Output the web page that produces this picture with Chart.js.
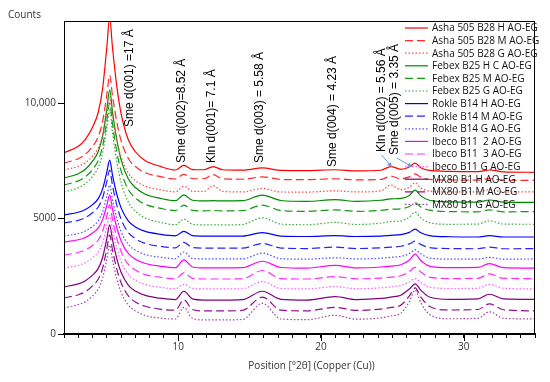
<!DOCTYPE html>
<html>
<head>
<meta charset="utf-8">
<script src="https://cdn.jsdelivr.net/npm/chart.js@4.4.1/dist/chart.umd.min.js"></script>
<style>
  body { margin: 0; background: #fff; }
</style>
</head>
<body>
<canvas id="xrd" width="550" height="382"></canvas>
<script>
// positions in degrees 2-theta
const twoTheta = [2, 3, 3.5, 4, 4.4, 4.7, 5.0, 5.2, 5.4, 5.7, 6.0, 6.5, 7, 7.7, 8.7, 9.8, 10.4, 11.0, 11.8, 12.45, 13.1, 14.5, 15.9, 17.2, 19, 21, 22.5, 24.2, 24.9, 25.6, 26.2, 26.6, 27.0, 27.6, 29, 31, 31.8, 32.8, 35];

// counts (each pattern already offset)
const ashaH = [7840, 8130, 8430, 8950, 9600, 10600, 12410, 13700, 12380, 10730, 9540, 8420, 7890, 7500, 7265, 7100, 7300, 7120, 7110, 7250, 7110, 7090, 7190, 7080, 7070, 7110, 7060, 7090, 7250, 7130, 7230, 7400, 7200, 7080, 7040, 7030, 7100, 7020, 7000];
const ashaM = [7400, 7590, 7780, 8120, 8540, 9190, 10360, 11200, 10300, 9180, 8370, 7610, 7250, 6980, 6820, 6710, 6910, 6730, 6720, 6900, 6720, 6700, 6800, 6690, 6680, 6720, 6670, 6690, 6830, 6720, 6800, 6930, 6790, 6690, 6670, 6660, 6730, 6660, 6650];
const ashaG = [7100, 7260, 7420, 7700, 8050, 8590, 9560, 10260, 9440, 8410, 7670, 6970, 6640, 6400, 6250, 6150, 6400, 6180, 6170, 6420, 6180, 6150, 6300, 6150, 6140, 6200, 6150, 6200, 6450, 6250, 6350, 6550, 6320, 6190, 6150, 6150, 6250, 6150, 6150];
const febexH = [6750, 6940, 7130, 7480, 7900, 8550, 9730, 10570, 9610, 8410, 7540, 6720, 6340, 6050, 5880, 5770, 6020, 5790, 5760, 5770, 5760, 5770, 6010, 5780, 5740, 5820, 5740, 5790, 5850, 5870, 6000, 6230, 5980, 5790, 5720, 5710, 5800, 5710, 5700];
const febexM = [6450, 6630, 6810, 7120, 7520, 8120, 9220, 10000, 9070, 7900, 7060, 6260, 5890, 5610, 5450, 5340, 5580, 5350, 5330, 5340, 5330, 5340, 5580, 5340, 5310, 5370, 5310, 5350, 5400, 5420, 5520, 5680, 5500, 5360, 5300, 5290, 5370, 5290, 5300];
const febexG = [6150, 6330, 6510, 6820, 7220, 7820, 8920, 9700, 8700, 7460, 6560, 5720, 5320, 5020, 4840, 4730, 4970, 4750, 4720, 4730, 4720, 4740, 5030, 4760, 4730, 4830, 4740, 4800, 4870, 4900, 5060, 5280, 5020, 4820, 4750, 4760, 4900, 4760, 4750];
const rokleH = [5150, 5270, 5390, 5600, 5860, 6270, 7010, 7530, 6870, 6050, 5460, 4900, 4630, 4440, 4320, 4250, 4440, 4260, 4240, 4240, 4240, 4240, 4390, 4240, 4220, 4260, 4220, 4240, 4270, 4300, 4400, 4540, 4380, 4260, 4210, 4200, 4260, 4200, 4200];
const rokleM = [4810, 4920, 5040, 5250, 5500, 5890, 6600, 7100, 6420, 5580, 4970, 4400, 4130, 3920, 3800, 3730, 3970, 3740, 3720, 3720, 3720, 3720, 3920, 3720, 3700, 3760, 3700, 3730, 3760, 3800, 3900, 4020, 3880, 3740, 3700, 3690, 3760, 3690, 3700];
const rokleG = [4240, 4350, 4460, 4660, 4900, 5280, 5960, 6450, 5810, 5010, 4430, 3890, 3630, 3440, 3330, 3260, 3550, 3270, 3250, 3250, 3250, 3250, 3500, 3260, 3240, 3300, 3250, 3280, 3320, 3360, 3480, 3650, 3470, 3290, 3240, 3240, 3320, 3240, 3250];
const ibeco2 = [3980, 4080, 4180, 4370, 4590, 4940, 5570, 6020, 5390, 4600, 4030, 3490, 3240, 3050, 2940, 2870, 3210, 2900, 2860, 2860, 2860, 2870, 3150, 2880, 2850, 2970, 2860, 2900, 2940, 3000, 3200, 3460, 3180, 2940, 2870, 2880, 3050, 2870, 2850];
const ibeco3 = [3420, 3530, 3640, 3830, 4070, 4440, 5110, 5590, 4950, 4150, 3570, 3020, 2770, 2570, 2460, 2390, 2650, 2410, 2380, 2380, 2380, 2390, 2750, 2400, 2380, 2480, 2390, 2420, 2460, 2520, 2700, 2880, 2680, 2460, 2400, 2410, 2600, 2410, 2400];
const ibecoG = [2860, 2970, 3090, 3300, 3550, 3940, 4650, 5150, 4510, 3710, 3130, 2590, 2330, 2140, 2030, 1960, 2150, 1980, 1950, 1950, 1950, 1960, 2270, 1970, 1950, 2050, 1960, 2000, 2040, 2100, 2250, 2400, 2230, 2030, 1970, 1980, 2150, 1980, 1950];
const mx80H = [2040, 2170, 2310, 2550, 2840, 3300, 4130, 4720, 4070, 3260, 2670, 2120, 1860, 1670, 1550, 1490, 1850, 1520, 1470, 1470, 1470, 1490, 1850, 1500, 1470, 1620, 1490, 1540, 1600, 1680, 1950, 2170, 1900, 1600, 1500, 1520, 1720, 1520, 1500];
const mx80M = [1560, 1700, 1830, 2080, 2380, 2840, 3690, 4290, 3630, 2810, 2220, 1660, 1390, 1200, 1080, 1030, 1480, 1060, 1000, 1000, 1000, 1020, 1600, 1030, 1000, 1150, 1020, 1080, 1150, 1250, 1650, 2000, 1600, 1200, 1040, 1060, 1300, 1050, 1000];
const mx80G = [1130, 1270, 1400, 1650, 1950, 2410, 3250, 3850, 3200, 2390, 1810, 1260, 1000, 800, 690, 650, 1150, 680, 610, 610, 610, 630, 1330, 650, 620, 810, 640, 700, 780, 900, 1400, 1900, 1350, 850, 660, 680, 960, 680, 650];

const seriesNames = [
  "Asha 505 B28 H AO-EG", "Asha 505 B28 M AO-EG", "Asha 505 B28 G AO-EG",
  "Febex B25 H C AO-EG", "Febex B25 M AO-EG", "Febex B25 G AO-EG",
  "Rokle B14 H AO-EG", "Rokle B14 M AO-EG", "Rokle B14 G AO-EG",
  "Ibeco B11  2 AO-EG", "Ibeco B11  3 AO-EG", "Ibeco B11 G AO-EG",
  "MX80 B1 H AO-EG", "MX80 B1 M AO-EG", "MX80 B1 G AO-EG"
];
const seriesValues = [ashaH, ashaM, ashaG, febexH, febexM, febexG, rokleH, rokleM, rokleG, ibeco2, ibeco3, ibecoG, mx80H, mx80M, mx80G];

const yTicks = [0, 5000, 10000];
const xTickLabels = [10, 20, 30];

// peak annotations (centre 2-theta, counts at the lower end of the text)
const peakLabels = ["Sme d(001) =17 Å", "Sme d(002)=8.52 Å", "Kln d(001)= 7.1 Å", "Sme d(003) = 5.58 Å", "Sme d(004) = 4.23 Å", "Kln d(002) = 5.56 Å", "Sme d(005) = 3.35 Å"];
const peakLabelX = [6.63, 10.28, 12.32, 15.68, 20.81, 24.25, 25.16];
const peakLabelY = [8960, 7400, 7400, 7400, 7230, 7880, 7750];
const arrowFromX = [24.25, 25.33];
const arrowFromY = [7750, 7620];
const arrowToX = [24.98, 26.39];
const arrowToY = [7230, 7230];

const lineColors = ["#ff0000", "#ff2a2a", "#ff4848", "#008a00", "#139913", "#36a836", "#0000ff", "#2424ff", "#4a4aff", "#ff00ff", "#ff2eff", "#ff5cff", "#800080", "#8f108f", "#a040a0"];
const dashes = [[], [8, 4], [1.5, 2]];

const datasets = seriesValues.map((vals, i) => ({
  label: seriesNames[i],
  data: twoTheta.map((t, k) => ({ x: t, y: vals[k] })),
  borderColor: lineColors[i],
  borderWidth: 1.2,
  borderDash: dashes[i % 3],
  pointRadius: 0,
  fill: false,
  cubicInterpolationMode: "monotone",
}));

const overlay = {
  id: "overlay",
  afterDraw(chart) {
    const { ctx, chartArea: a, scales } = chart;
    const x = scales.x, y = scales.y;
    ctx.save();

    // frame
    ctx.strokeStyle = "#000";
    ctx.lineWidth = 1;
    ctx.strokeRect(a.left + 0.5, a.top + 0.5, a.right - a.left - 1, a.bottom - a.top);

    // longer major ticks
    ctx.lineWidth = 1;
    xTickLabels.forEach((v) => {
      const px = Math.round(x.getPixelForValue(v)) + 0.5;
      ctx.beginPath();
      ctx.moveTo(px, a.bottom);
      ctx.lineTo(px, a.bottom + 7);
      ctx.stroke();
    });

    // rotated peak labels
    ctx.fillStyle = "#000";
    ctx.font = '12px "Liberation Sans"';
    ctx.textAlign = "left";
    ctx.textBaseline = "middle";
    peakLabels.forEach((t, i) => {
      ctx.save();
      ctx.translate(x.getPixelForValue(peakLabelX[i]), y.getPixelForValue(peakLabelY[i]));
      ctx.rotate(-Math.PI / 2);
      ctx.fillText(t, 0, 0);
      ctx.restore();
    });

    // arrows
    ctx.strokeStyle = "#5b9bd5";
    ctx.fillStyle = "#5b9bd5";
    ctx.lineWidth = 1;
    arrowFromX.forEach((fx, i) => {
      const x0 = x.getPixelForValue(fx), y0 = y.getPixelForValue(arrowFromY[i]);
      const x1 = x.getPixelForValue(arrowToX[i]), y1 = y.getPixelForValue(arrowToY[i]);
      const ang = Math.atan2(y1 - y0, x1 - x0);
      ctx.beginPath();
      ctx.moveTo(x0, y0);
      ctx.lineTo(x1, y1);
      ctx.stroke();
      ctx.beginPath();
      ctx.moveTo(x1, y1);
      ctx.lineTo(x1 - 5 * Math.cos(ang - 0.45), y1 - 5 * Math.sin(ang - 0.45));
      ctx.lineTo(x1 - 5 * Math.cos(ang + 0.45), y1 - 5 * Math.sin(ang + 0.45));
      ctx.closePath();
      ctx.fill();
    });

    // legend
    ctx.font = '10px "Open Sans"';
    ctx.textBaseline = "middle";
    chart.data.datasets.forEach((ds, i) => {
      const ly = a.top + 7 + i * 12.6;
      const lx = a.right - 130;
      ctx.strokeStyle = ds.borderColor;
      ctx.lineWidth = 1.2;
      ctx.setLineDash(ds.borderDash);
      ctx.beginPath();
      ctx.moveTo(lx, ly);
      ctx.lineTo(lx + 23, ly);
      ctx.stroke();
      ctx.setLineDash([]);
      ctx.fillStyle = "#111";
      ctx.fillText(ds.label, lx + 27, ly + 0.5);
    });

    // axis titles
    ctx.fillStyle = "#333";
    ctx.font = '10px "Open Sans"';
    ctx.textAlign = "left";
    ctx.fillText("Counts", 8, 15);
    ctx.textAlign = "center";
    ctx.fillText("Position [°2θ] (Copper (Cu))", (a.left + a.right) / 2 + 12, 366);

    ctx.restore();
  },
};

new Chart(document.getElementById("xrd").getContext("2d"), {
  type: "line",
  data: { datasets: datasets },
  options: {
    responsive: false,
    animation: false,
    layout: { padding: { top: 21, right: 15, left: 0, bottom: 0 } },
    scales: {
      x: {
        type: "linear",
        min: 2,
        max: 35,
        afterFit: (s) => { s.height = 48; },
        grid: { display: true, drawOnChartArea: false, tickLength: 4, color: "#000" },
        border: { color: "#000", width: 2 },
        ticks: {
          stepSize: 1,
          includeBounds: false,
          autoSkip: false,
          maxRotation: 0,
          padding: 3,
          color: "#333",
          font: { family: "Open Sans", size: 10 },
          callback: (v) => (xTickLabels.includes(v) ? String(v) : ""),
        },
      },
      y: {
        min: 0,
        max: 13550,
        afterFit: (s) => { s.width = 64; },
        afterBuildTicks: (s) => { s.ticks = yTicks.map((v) => ({ value: v })); },
        grid: { display: true, drawOnChartArea: false, tickLength: 6, color: "#000" },
        border: { color: "#000", width: 1 },
        ticks: {
          includeBounds: false,
          padding: 2,
          color: "#333",
          font: { family: "Open Sans", size: 10 },
          callback: (v) => (v === 10000 ? "10,000" : String(v)),
        },
      },
    },
    plugins: {
      legend: { display: false },
      tooltip: { enabled: false },
    },
  },
  plugins: [overlay],
});
</script>
</body>
</html>
